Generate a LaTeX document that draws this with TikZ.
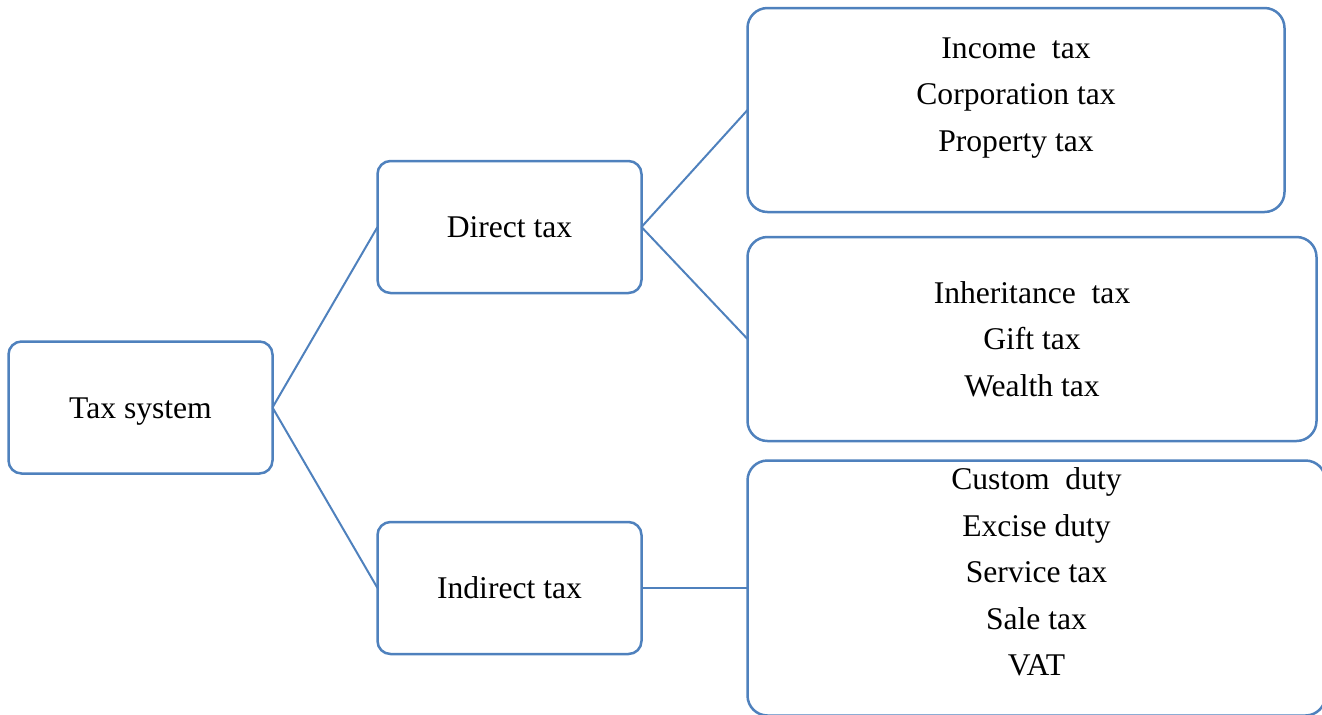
\documentclass[tikz,border=0pt]{standalone}
\usepackage{fontspec}
\setmainfont{Liberation Serif}
\usetikzlibrary{positioning}
\definecolor{boxDraw}{HTML}{4F81BD}
\tikzset{
  font=\fontsize{15.8pt}{23.2pt}\selectfont,
  box/.style  ={draw=boxDraw, fill=white, line width=1.25pt, align=center, inner sep=0pt, outer sep=0pt},
  head/.style ={box, minimum width=132pt, minimum height=66pt, rounded corners=6.5pt,
                text height=10.5pt, text depth=0pt},
  list/.style ={box, rounded corners=10pt},
  items/.style={align=center, inner sep=0pt},
  link/.style ={draw=boxDraw, line width=1pt},
}
\begin{document}
\begin{tikzpicture}[x=0.5pt,y=-0.5pt]
  \useasboundingbox (0,0) rectangle (1322,714);
  \node[head] (tax) at (140.5,407.5) {Tax system};
  \node[head, right=52.5pt of tax, yshift=90.25pt]  (direct)   {Direct tax};
  \node[head, right=52.5pt of tax, yshift=-90.25pt] (indirect) {Indirect tax};

  \node[list, minimum width=268.5pt, minimum height=102pt, right=53pt of direct, yshift=58.5pt] (dirA) {};
  \node[list, minimum width=284.5pt, minimum height=102pt, right=53pt of direct, yshift=-56pt]  (dirB) {};
  \node[list, minimum width=289pt, minimum height=127.5pt, right=53pt of indirect]             (ind)  {};

  \node[items] (dirAtext) at ([yshift=6pt]dirA.center) {Income~ tax\\Corporation tax\\Property tax};
  \node[items] (dirBtext) at (dirB.center) {Inheritance~ tax\\Gift tax\\Wealth tax};
  \node[items] (indtext)  at ([yshift=8pt]ind.center) {Custom~ duty\\Excise duty\\Service tax\\Sale tax\\VAT};

  \draw[link] (tax.east) -- (direct.west);
  \draw[link] (tax.east) -- (indirect.west);
  \draw[link] (direct.east) -- (dirA.west);
  \draw[link] (direct.east) -- (dirB.west);
  \draw[link] (indirect.east) -- (ind.west);
\end{tikzpicture}
\end{document}
